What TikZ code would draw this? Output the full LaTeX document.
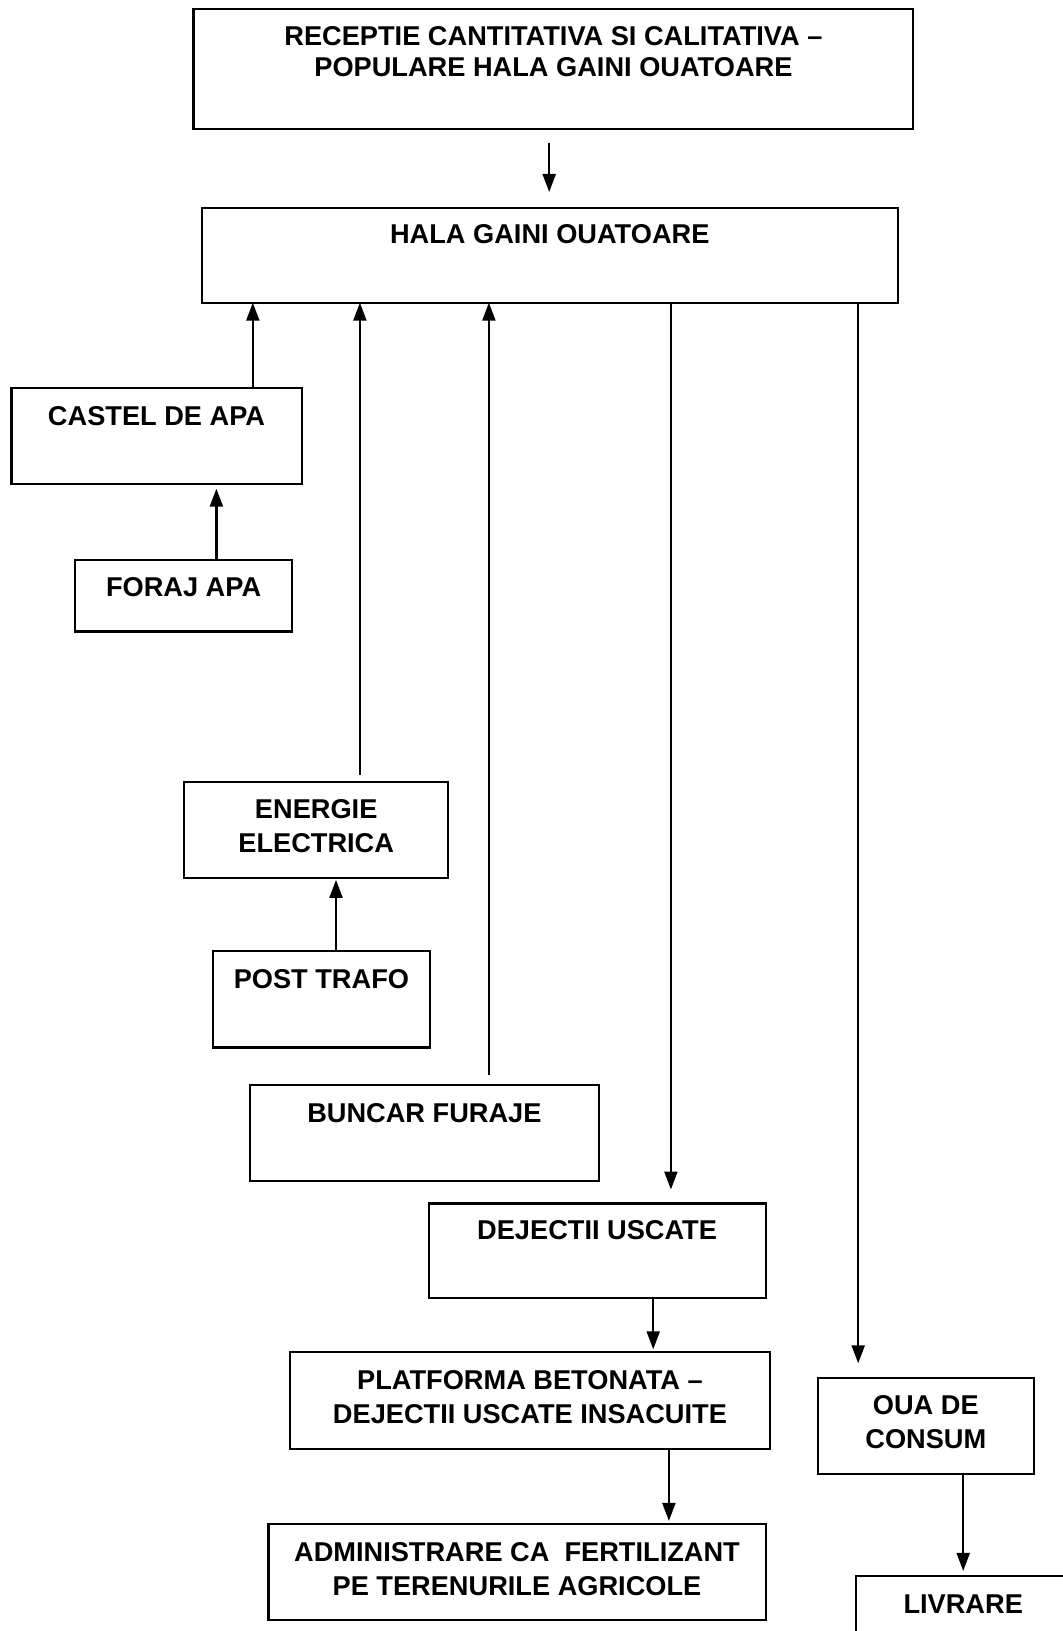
\documentclass[tikz,border=0pt]{standalone}
\usepackage{fontspec}
\setmainfont{Liberation Sans}
\usetikzlibrary{arrows.meta}
\tikzset{
 box/.style={draw, line width=1.1pt, inner sep=0pt, outer sep=0pt},
 lbl/.style={anchor=north, inner sep=0pt, align=center, font=\fontsize{13.6}{17}\selectfont\bfseries},
 arr/.style={line width=1.1pt, -{Triangle[length=9pt,width=6.5pt]}},
}
\newcommand\mkbox[5]{\node[box, minimum width={(#4-#2)*0.5pt}, minimum height={(#5-#3)*0.5pt}] (#1) at ({(#2+#4)/2},{(#3+#5)/2}) {};}
\begin{document}
\begin{tikzpicture}[x=0.5pt,y=-0.5pt]
\useasboundingbox[fill=white] (0,0) rectangle (1062,1631);
% boxes
\mkbox{top}{193.5}{9.4}{913.3}{129}
\mkbox{hala}{201.8}{208}{897.7}{302.7}
\mkbox{castel}{11.4}{388}{301.7}{483.7}
\mkbox{foraj}{74.9}{559.6}{292.3}{631.4}
\mkbox{energie}{184.1}{782.2}{448.3}{877.9}
\mkbox{post}{213.2}{950.7}{429.6}{1047.5}
\mkbox{buncar}{249.6}{1084.9}{599.2}{1180.6}
\mkbox{dejectii}{428.6}{1203.5}{765.6}{1298.2}
\mkbox{platforma}{290.2}{1352.3}{769.7}{1449}
\mkbox{admin}{268.4}{1523.9}{765.6}{1619.6}
\mkbox{oua}{817.6}{1378.3}{1034}{1474}
\mkbox{livrare}{856.1}{1575.9}{1110}{1680}
% connector x positions
\coordinate (x1) at (549.2,0);
\coordinate (x2) at (252.8,0);
\coordinate (x3) at (359.9,0);
\coordinate (x4) at (488.9,0);
\coordinate (x5) at (670.9,0);
\coordinate (x6) at (858.2,0);
\coordinate (x7) at (216.4,0);
\coordinate (x8) at (336,0);
\coordinate (x9) at (653.2,0);
\coordinate (x10) at (668.9,0);
\coordinate (x11) at (963.2,0);
% labels
\node[lbl, font=\fontsize{13.6}{15.5}\selectfont\bfseries] (ttop) at ([yshift=-8.3pt]top.north) {RECEPTIE CANTITATIVA SI CALITATIVA –\\POPULARE HALA GAINI OUATOARE};
\node[lbl] (thala) at ([yshift=-8pt]hala.north) {HALA GAINI OUATOARE};
\node[lbl] (tcastel) at ([yshift=-9pt]castel.north) {CASTEL DE APA};
\node[lbl] (tforaj) at ([yshift=-9pt]foraj.north) {FORAJ APA};
\node[lbl] (tenergie) at ([yshift=-8.5pt]energie.north) {ENERGIE\\ELECTRICA};
\node[lbl] (tpost) at ([yshift=-9pt]post.north) {POST TRAFO};
\node[lbl] (tbuncar) at ([yshift=-9pt]buncar.north) {BUNCAR FURAJE};
\node[lbl] (tdejectii) at ([yshift=-8.5pt]dejectii.north) {DEJECTII USCATE};
\node[lbl] (tplatforma) at ([yshift=-9pt]platforma.north) {PLATFORMA BETONATA –\\DEJECTII USCATE INSACUITE};
\node[lbl] (tadmin) at ([yshift=-9pt]admin.north) {ADMINISTRARE CA\ \ FERTILIZANT\\PE TERENURILE AGRICOLE};
\node[lbl] (toua) at ([yshift=-8.5pt]oua.north) {OUA DE\\CONSUM};
\node[lbl] (tlivrare) at ([yshift=-9pt]x11 |- livrare.north) {LIVRARE};
% connectors
\draw[arr, shorten <=7pt, shorten >=8pt] (x1 |- top.south) -- (x1 |- hala.north);
\draw[arr] (x2 |- castel.north) -- (x2 |- hala.south);
\draw[arr, shorten <=3.5pt] (x3 |- energie.north) -- (x3 |- hala.south);
\draw[arr, shorten <=5pt] (x4 |- buncar.north) -- (x4 |- hala.south);
\draw[arr, shorten >=7pt] (x5 |- hala.south) -- (x5 |- dejectii.north);
\draw[arr, shorten >=7.5pt] (x6 |- hala.south) -- (x6 |- oua.north);
\draw[arr, shorten >=2.5pt] (x7 |- foraj.north) -- (x7 |- castel.south);
\draw[arr, shorten >=1pt] (x8 |- post.north) -- (x8 |- energie.south);
\draw[arr, shorten >=1.5pt] (x9 |- dejectii.south) -- (x9 |- platforma.north);
\draw[arr, shorten >=1.5pt] (x10 |- platforma.south) -- (x10 |- admin.north);
\draw[arr, shorten >=2.5pt] (x11 |- oua.south) -- (x11 |- livrare.north);
\end{tikzpicture}
\end{document}
